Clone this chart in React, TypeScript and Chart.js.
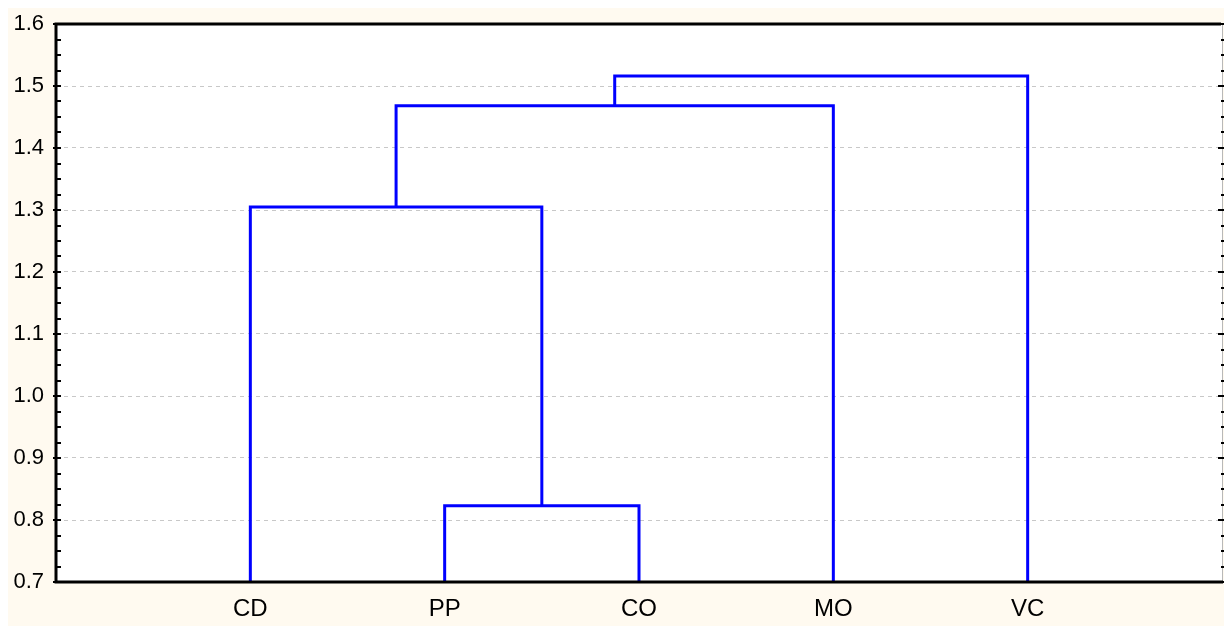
import React, { useEffect, useRef } from "react";
import { Chart, registerables } from "chart.js";

Chart.register(...registerables);

// Leaves of the dendrogram (left to right)
const leafLabels = ["CD", "PP", "CO", "MO", "VC"];
// Merge steps: node ids 0..4 are leaves, 5.. are clusters created in order
const mergeLeftNode = [1, 0, 6, 7];
const mergeRightNode = [2, 5, 3, 4];
const mergeHeight = [0.823, 1.305, 1.468, 1.516];
// Y axis
const yMin = 0.7;
const yMax = 1.6;
const yStep = 0.1;

const CREAM = "#FFFAF0";
const BLUE = "#0000FF";
const FAMILY = "Liberation Sans, Arial, sans-serif";

function buildLinks() {
  const nodeX: number[] = leafLabels.map((_, i) => i + 1);
  const nodeH: number[] = leafLabels.map(() => yMin);
  const links: { x: number; y: number }[][] = [];
  for (let i = 0; i < mergeHeight.length; i++) {
    const a = mergeLeftNode[i];
    const b = mergeRightNode[i];
    const h = mergeHeight[i];
    links.push([
      { x: nodeX[a], y: nodeH[a] },
      { x: nodeX[a], y: h },
      { x: nodeX[b], y: h },
      { x: nodeX[b], y: nodeH[b] },
    ]);
    nodeX.push((nodeX[a] + nodeX[b]) / 2);
    nodeH.push(h);
  }
  return links;
}

const framePlugin = {
  id: "frame",
  beforeDraw(chart: any) {
    const { ctx, chartArea: a, width, height } = chart;
    ctx.save();
    ctx.fillStyle = CREAM;
    ctx.fillRect(0, 0, width, height);
    ctx.fillStyle = "#FFFFFF";
    ctx.fillRect(a.left, a.top, a.right - a.left, a.bottom - a.top);
    ctx.restore();
  },
  afterDraw(chart: any) {
    const { ctx, chartArea: a } = chart;
    const ys = chart.scales.y;
    ctx.save();
    // right border (light)
    ctx.strokeStyle = "#B8B8B8";
    ctx.lineWidth = 1;
    ctx.beginPath();
    ctx.moveTo(a.right + 0.5, a.top);
    ctx.lineTo(a.right + 0.5, a.bottom);
    ctx.stroke();
    // ticks
    ctx.strokeStyle = "#000";
    ctx.lineWidth = 2;
    const nMinor = Math.round((yMax - yMin) / 0.025);
    for (let i = 0; i <= nMinor; i++) {
      const v = yMin + i * 0.025;
      const py = Math.round(ys.getPixelForValue(v));
      const major = i % 4 === 0;
      ctx.beginPath();
      ctx.moveTo(a.left - (major ? 3 : 0), py);
      ctx.lineTo(a.left + 5, py);
      ctx.stroke();
      ctx.beginPath();
      ctx.moveTo(a.right - (major ? 4 : 1), py);
      ctx.lineTo(a.right + 2, py);
      ctx.stroke();
    }
    // main frame: left, top, bottom
    ctx.lineWidth = 3;
    ctx.beginPath();
    ctx.moveTo(a.right - 1, a.top);
    ctx.lineTo(a.left, a.top);
    ctx.lineTo(a.left, a.bottom);
    ctx.lineTo(a.right + 1, a.bottom);
    ctx.stroke();
    ctx.restore();
  },
};

export default function App() {
  const ref = useRef<HTMLCanvasElement | null>(null);
  useEffect(() => {
    if (!ref.current) return;
    const links = buildLinks();
    const chart = new Chart(ref.current, {
      type: "line",
      data: {
        datasets: links.map((pts) => ({
          data: pts,
          borderColor: BLUE,
          borderWidth: 3,
          pointRadius: 0,
          fill: false,
          tension: 0,
        })),
      },
      options: {
        responsive: false,
        animation: false,
        parsing: false,
        layout: { padding: { top: 16, right: 2, left: 0, bottom: 0 } },
        plugins: { legend: { display: false }, tooltip: { enabled: false } },
        scales: {
          x: {
            type: "linear",
            min: 0,
            max: leafLabels.length + 1,
            afterBuildTicks: (s: any) => {
              s.ticks = leafLabels.map((_, i) => ({ value: i + 1 }));
            },
            afterFit: (s: any) => {
              s.height = 44;
              s.paddingLeft = 0;
              s.paddingRight = 0;
            },
            ticks: {
              callback: (v: any) => leafLabels[Number(v) - 1] ?? "",
              color: "#000",
              font: { family: FAMILY, size: 24 },
              padding: 13,
              maxRotation: 0,
              autoSkip: false,
            },
            grid: { display: false, drawTicks: false },
            border: { display: false },
          },
          y: {
            type: "linear",
            min: yMin,
            max: yMax,
            afterFit: (s: any) => {
              s.width = 48;
              s.paddingTop = 0;
              s.paddingBottom = 0;
            },
            ticks: {
              stepSize: yStep,
              callback: (v: any) => Number(v).toFixed(1),
              color: "#000",
              font: { family: FAMILY, size: 22 },
              padding: 12,
            },
            grid: {
              drawTicks: false,
              color: "#C8C8C8",
              lineWidth: 1,
            },
            border: { display: false, dash: [4, 4] },
          },
        },
      },
      plugins: [framePlugin],
    });
    return () => chart.destroy();
  }, []);
  return (
    <div style={{ position: "fixed", left: 8, top: 8, width: 1216, height: 618 }}>
      <canvas ref={ref} width={1216} height={618} style={{ display: "block" }} />
    </div>
  );
}
